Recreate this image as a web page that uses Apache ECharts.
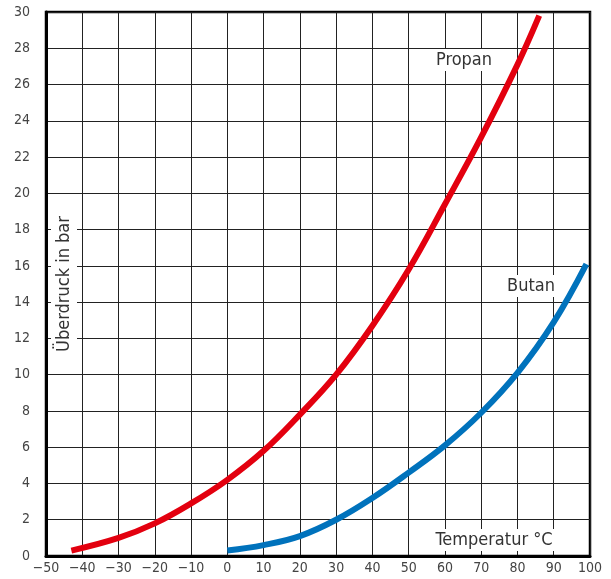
<!DOCTYPE html>
<html><head><meta charset="utf-8">
<script src="https://cdn.jsdelivr.net/npm/echarts@6/dist/echarts.min.js"></script>
<style>html,body{margin:0;padding:0;background:#fff}#c{width:611px;height:579px}</style>
</head><body><div id="c"></div>
<script>
const propanT = [-43, -30, -20, -10, 0, 10, 20, 30, 40, 50, 60, 70, 80, 86];
const propanP = [0.3, 1.0, 1.8, 2.9, 4.2, 5.8, 7.8, 10.0, 12.7, 15.8, 19.4, 23.1, 27.1, 29.8];
const butanT = [0, 10, 20, 30, 40, 50, 60, 70, 80, 90, 99];
const butanP = [0.3, 0.6, 1.1, 2.0, 3.2, 4.6, 6.1, 7.9, 10.1, 12.9, 16.1];
const xLabel = 'Temperatur °C';
const yLabel = 'Überdruck in bar';
const FONT = '"DejaVu Sans Condensed", "Open Sans", sans-serif';

const chart = echarts.init(document.getElementById('c'), null, {renderer: 'canvas'});
const zip = (a, b) => a.map((v, i) => [v, b[i]]);
const tf = (size) => size + 'px ' + FONT;
chart.setOption({
  animation: false,
  grid: {left: 46, right: 21, top: 12, bottom: 23, show: true, borderColor: '#000', borderWidth: 2.5, backgroundColor: 'transparent'},
  xAxis: {
    type: 'value', min: -50, max: 100, interval: 10,
    axisLine: {onZero: false, lineStyle: {color: '#000', width: 3}},
    axisTick: {show: false},
    splitLine: {lineStyle: {color: '#222', width: 1}},
    axisLabel: {color: '#444', fontSize: 14, fontFamily: FONT, margin: 5,
      formatter: v => String(v).replace('-', '\u2212')}
  },
  yAxis: {
    type: 'value', min: 0, max: 30, interval: 2,
    axisLine: {show: true, onZero: false, lineStyle: {color: '#000', width: 3}},
    axisTick: {show: false},
    splitLine: {lineStyle: {color: '#222', width: 1}},
    axisLabel: {color: '#444', fontSize: 14, fontFamily: FONT, margin: 16}
  },
  series: [
    {type: 'line', name: 'Propan', data: zip(propanT, propanP), smooth: 0.4, showSymbol: false,
     lineStyle: {color: '#e3000f', width: 6}, z: 3},
    {type: 'line', name: 'Butan', data: zip(butanT, butanP), smooth: 0.4, showSymbol: false,
     lineStyle: {color: '#0072bc', width: 6}, z: 3}
  ],
  graphic: [
    {type: 'text', x: 494, y: 540, z: 10, style: {text: xLabel, fill: '#333', font: tf(18), align: 'center', verticalAlign: 'middle', backgroundColor: '#fff', padding: [2, 6]}},
    {type: 'text', x: 64, y: 284, rotation: Math.PI / 2, z: 10, style: {text: yLabel, fill: '#333', font: tf(18), align: 'center', verticalAlign: 'middle', backgroundColor: '#fff', padding: [4, 6]}},
    {type: 'text', x: 464, y: 60, z: 10, style: {text: 'Propan', fill: '#333', font: tf(18), align: 'center', verticalAlign: 'middle', backgroundColor: '#fff', padding: [2, 4]}},
    {type: 'text', x: 531, y: 286, z: 10, style: {text: 'Butan', fill: '#333', font: tf(18), align: 'center', verticalAlign: 'middle', backgroundColor: '#fff', padding: [2, 4]}}
  ]
});
</script></body></html>
